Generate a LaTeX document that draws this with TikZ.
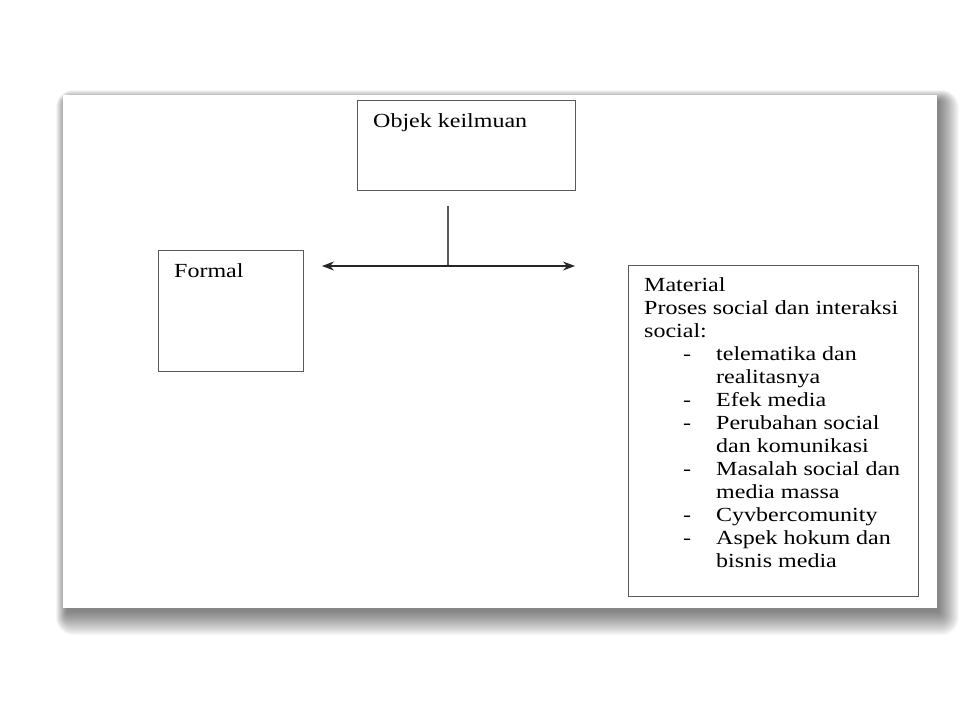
\documentclass[tikz,border=0pt]{standalone}
\usepackage{fontspec}
\setmainfont{Liberation Serif}[FakeStretch=1.2]
\usetikzlibrary{arrows.meta}
\definecolor{boxline}{HTML}{5A5A5A}
\tikzset{
  box/.style={draw=boxline, line width=1.2pt, fill=white, inner sep=0pt},
  boxtext/.style={anchor=north west, inner sep=0pt, align=left, font=\fontsize{20}{23}\selectfont, text=black},
  conn/.style={draw=black!85, line width=1.3pt},
  tip/.style={-{Stealth[length=12pt,width=9pt]}}
}
\newcommand{\itm}[1]{\hspace*{39pt}\makebox[33pt][l]{-}#1}
\newcommand{\cnt}[1]{\hspace*{72pt}#1}
\begin{document}
\begin{tikzpicture}[x=1pt,y=-1pt]
\useasboundingbox (0,0) rectangle (960,720);
% shadow of the slide page
\foreach \i in {0,...,22}{
  \fill[black, opacity=0.028, rounded corners=\i*0.8pt] (63+4-\i*0.5, 95+6-\i*0.5) rectangle (937+2+\i*0.9, 608+4+\i*1.05);
}
\fill[white] (63,95) rectangle (937,608);
% boxes
\node[box, minimum width=218pt, minimum height=90pt, anchor=north west] (obj) at (357,100) {};
\node[boxtext] (objt) at (373,113) {Objek keilmuan};
\node[box, minimum width=145pt, minimum height=121pt, anchor=north west] (formal) at (158,250) {};
\node[boxtext] (formalt) at (174,263) {Formal};
\node[box, minimum width=290pt, minimum height=331pt, anchor=north west] (mat) at (628,265) {};
\node[boxtext] (matt) at (644,277) {Material\\
Proses social dan interaksi\\
social:\\
\itm{telematika dan}\\
\cnt{realitasnya}\\
\itm{Efek media}\\
\itm{Perubahan social}\\
\cnt{dan komunikasi}\\
\itm{Masalah social dan}\\
\cnt{media massa}\\
\itm{Cyvbercomunity}\\
\itm{Aspek hokum dan}\\
\cnt{bisnis media}};
% connectors
\coordinate (vtop) at (448,206);
\coordinate (junc) at (448,266);
\coordinate (lend) at (322,266);
\coordinate (rend) at (575,266);
\draw[conn, draw=boxline, line width=1.2pt] (vtop) -- (junc);
\draw[conn, tip] (junc) -- (lend);
\draw[conn, tip] (junc) -- (rend);
\end{tikzpicture}
\end{document}
